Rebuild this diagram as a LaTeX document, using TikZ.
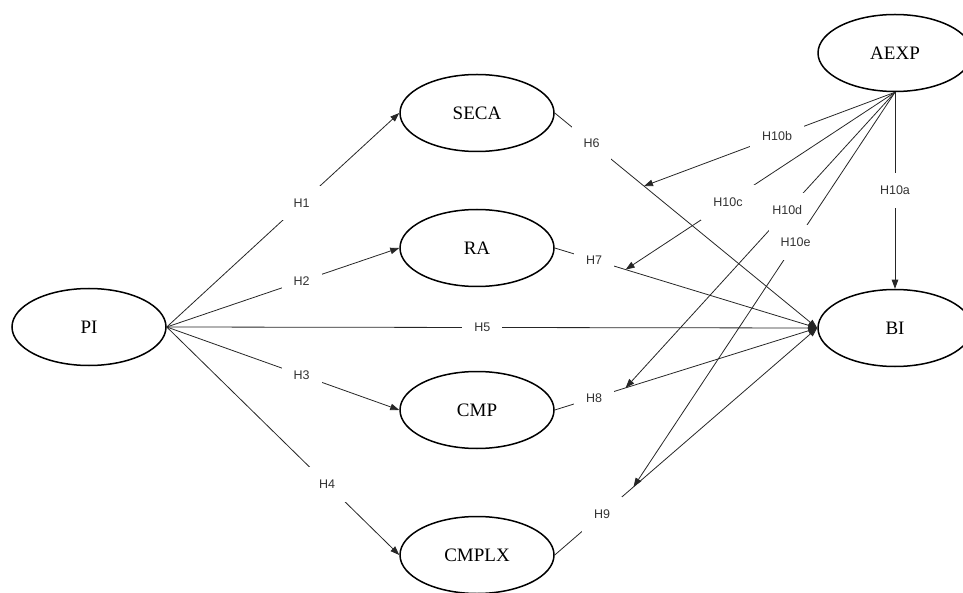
\documentclass[tikz,border=0pt]{standalone}
\usepackage{fontspec}
\setmainfont{Liberation Serif}
\newfontfamily\labfont{Liberation Sans}
\usetikzlibrary{shapes.geometric,arrows.meta,calc}
\begin{document}
\begin{tikzpicture}[x=1pt,y=-1pt,
  construct/.style={ellipse,draw,line width=1.5pt,minimum width=154pt,minimum height=77pt,inner sep=0pt,font=\fontsize{19}{21}\selectfont},
  link/.style={draw=black!85,line width=0.8pt},
  arr/.style={link,-{Triangle[length=9pt,width=6.5pt]}},
  hyp/.style={fill=white,inner xsep=12pt,inner ysep=13pt,font=\labfont\fontsize{12.5}{14}\selectfont,text=black!80}
]
\useasboundingbox (0,0) rectangle (963,593);

\node[construct] (PI) at (89,327) {PI};
\node[construct] (SECA) at (477,113) {SECA};
\node[construct] (RA) at (477,248) {RA};
\node[construct] (CMP) at (477,410) {CMP};
\node[construct] (CMPLX) at (477,555) {CMPLX};
\node[construct] (AEXP) at (895,53) {AEXP};
\node[construct] (BI) at (895,328) {BI};

% PI to mediators and BI
\draw[arr] (PI.east) -- node[hyp,pos=0.58]{H1} (SECA.west);
\draw[arr] (PI.east) -- node[hyp,pos=0.58]{H2} (RA.west);
\draw[arr] (PI.east) -- node[hyp,pos=0.58]{H3} (CMP.west);
\draw[arr] (PI.east) -- node[hyp,pos=0.69]{H4} (CMPLX.west);
\draw[arr] (PI.east) -- node[hyp,pos=0.485]{H5} (BI.west);

% mediators to BI
\draw[arr] (SECA.east) -- node[hyp,pos=0.14]{H6} (BI.west);
\draw[arr] (RA.east) -- node[hyp,pos=0.15]{H7} (BI.west);
\draw[arr] (CMP.east) -- node[hyp,pos=0.15]{H8} (BI.west);
\draw[arr] (CMPLX.east) -- node[hyp,pos=0.18]{H9} (BI.west);

% moderation targets
\coordinate (tb) at ($(SECA.east)!0.34!(BI.west)$);
\coordinate (tc) at ($(RA.east)!0.27!(BI.west)$);
\coordinate (td) at ($(CMP.east)!0.27!(BI.west)$);
\coordinate (te) at ($(CMPLX.east)!0.30!(BI.west)$);

\draw[arr] (AEXP.south) -- node[hyp,pos=0.5]{H10a} (BI.north);
\draw[arr] (AEXP.south) -- node[hyp,pos=0.47]{H10b} (tb);
\draw[arr] (AEXP.south) -- node[hyp,pos=0.62]{H10c} (tc);
\draw[arr] (AEXP.south) -- node[hyp,pos=0.4]{H10d} (td);
\draw[arr] (AEXP.south) -- node[hyp,pos=0.38]{H10e} (te);
\end{tikzpicture}
\end{document}
